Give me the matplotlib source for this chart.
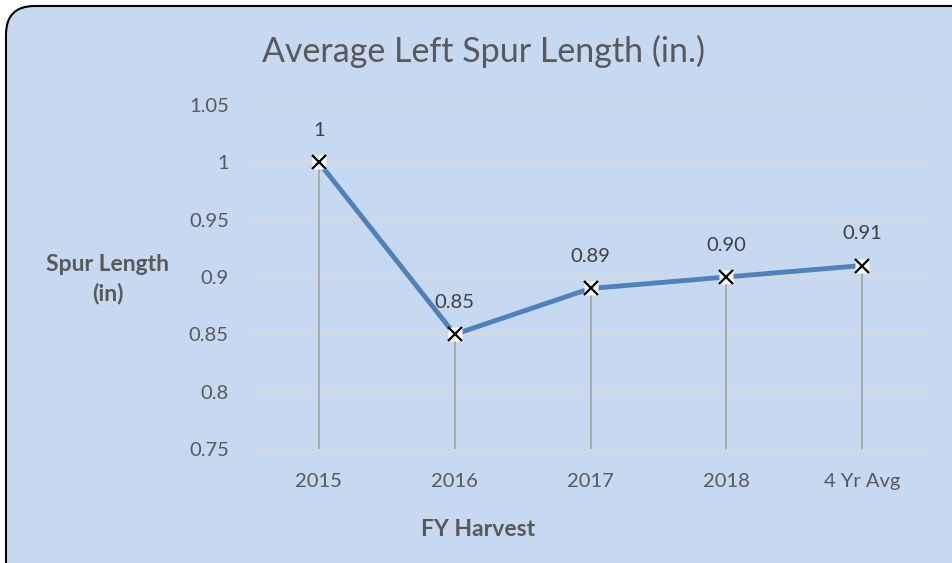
import matplotlib
matplotlib.use("Agg")
import matplotlib.pyplot as plt
from matplotlib.patches import FancyBboxPatch

# ================== 数据 ==================
categories = ["2015", "2016", "2017", "2018", "4 Yr Avg"]
values = [1.00, 0.85, 0.89, 0.90, 0.91]
labels = ["1", "0.85", "0.89", "0.90", "0.91"]
yticks = [0.75, 0.8, 0.85, 0.9, 0.95, 1, 1.05]

bg = "#C6D9F0"
txt = "#595959"
plt.rcParams["font.family"] = ["Lato", "DejaVu Sans"]

fig = plt.figure(figsize=(9.52, 5.63), dpi=100)
fig.patch.set_facecolor("white")

# 圆角外框
frame = FancyBboxPatch((6 / 952, -40 / 563), 990 / 952, 597 / 563,
                       boxstyle="round,pad=0,rounding_size=0.03",
                       transform=fig.transFigure, facecolor=bg,
                       edgecolor="black", linewidth=1.5,
                       mutation_aspect=952 / 563, zorder=-10)
fig.patches.append(frame)

ax = fig.add_axes([251 / 952, 1 - 449 / 563, 679 / 952, 344 / 563], zorder=5)
ax.set_facecolor("none")
ax.patch.set_alpha(0)
x = list(range(len(categories)))

ax.set_xlim(-0.5, len(categories) - 0.5)
ax.set_ylim(0.75, 1.05)
ax.set_yticks(yticks)
ax.set_yticklabels([f"{t:g}" for t in yticks])
ax.yaxis.grid(True, color="#D9D9D9", linewidth=1.2)
ax.set_axisbelow(True)

# 垂直落线
ax.vlines(x, 0.75, values, color="#A6A6A6", linewidth=1.3, zorder=2)

ax.plot(x, values, color="#4F81BD", linewidth=3.5, zorder=3, solid_capstyle="round")
ax.plot(x, values, linestyle="none", marker="s", markersize=10.5,
        markerfacecolor="white", markeredgecolor="none", zorder=4)
ax.plot(x, values, linestyle="none", marker="x", markersize=10,
        markeredgecolor="black", markeredgewidth=1.6, zorder=5)

for xi, v, lab in zip(x, values, labels):
    ax.annotate(lab, (xi, v), xytext=(0, 23), textcoords="offset points",
                ha="center", va="center", fontsize=14.5, color="#404040")

for s in ax.spines.values():
    s.set_visible(False)
ax.set_xticks(x)
ax.set_xticklabels(categories)
ax.tick_params(axis="both", length=0, labelsize=14.5, colors=txt)
ax.tick_params(axis="x", pad=17)
ax.tick_params(axis="y", pad=16)

fig.text(483 / 952, 1 - 51 / 563, "Average Left Spur Length (in.)",
         ha="center", va="center", fontsize=24.5, color=txt)
fig.text(108 / 952, 1 - 279 / 563, "Spur Length\n(in)", ha="center", va="center",
         fontsize=16.5, fontweight="bold", color=txt, linespacing=1.4)
fig.text(478 / 952, 1 - 529 / 563, "FY Harvest", ha="center", va="center",
         fontsize=16.5, fontweight="bold", color=txt)

fig.savefig("out.png", dpi=100)
